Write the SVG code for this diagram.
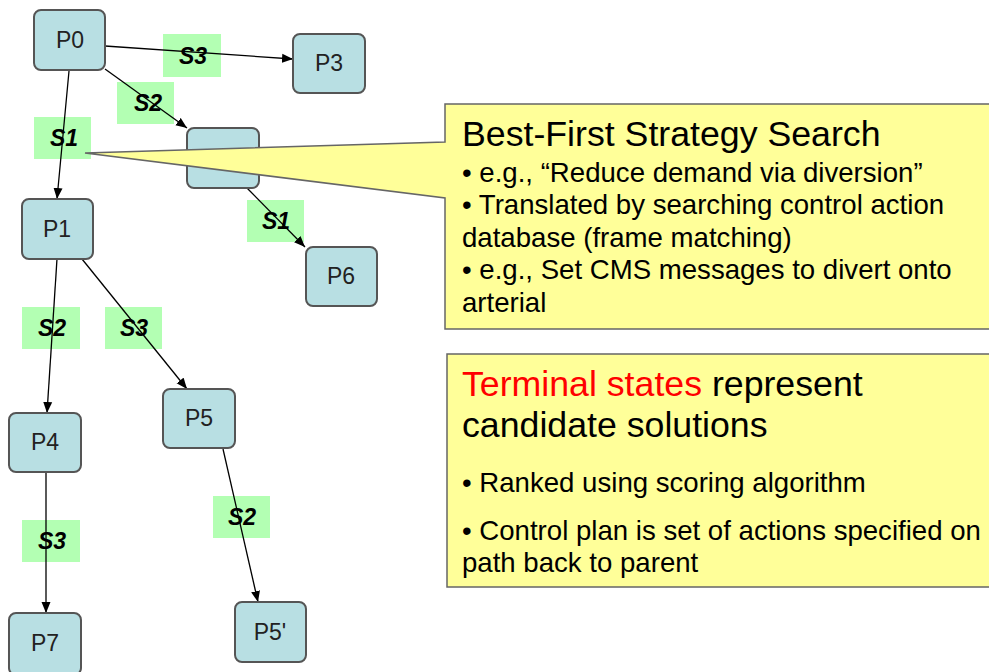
<svg xmlns="http://www.w3.org/2000/svg" width="989" height="672" viewBox="0 0 989 672">
<defs>
<marker id="arr" viewBox="0 0 11 10" refX="11" refY="5" markerWidth="11" markerHeight="10" markerUnits="userSpaceOnUse" orient="auto">
<path d="M0,0.5 L11,5 L0,9.5 Z" fill="#000"/>
</marker>
<style>
.node rect{fill:#b8dfe3;stroke:#555;stroke-width:2}
.node text{font-family:"Liberation Sans",Arial,sans-serif;font-size:23px;fill:#222;text-anchor:middle;dominant-baseline:central}
.lbl rect{fill:#b3ffb3;stroke:none}
.lbl text{font-family:"Liberation Sans",Arial,sans-serif;font-size:23px;font-weight:bold;font-style:italic;fill:#000;text-anchor:middle;dominant-baseline:central}
.edge{stroke:#000;stroke-width:1.3;fill:none;marker-end:url(#arr)}
.callout{fill:#ffff99;stroke:#666;stroke-width:1.5}
.t{font-family:"Liberation Sans",Arial,sans-serif;fill:#000}
.h{font-size:35.7px}
.b{font-size:27.6px}
</style>
</defs>
<rect width="989" height="672" fill="#fff"/>

<g id="labels" class="lbl">
<g id="l-p0-p3"><rect x="163" y="34" width="58" height="43"/><text x="193" y="56">S3</text></g>
<g id="l-p0-p2"><rect x="117" y="82" width="57" height="42"/><text x="148" y="103">S2</text></g>
<g id="l-p0-p1"><rect x="34" y="117" width="57" height="42"/><text x="64" y="138">S1</text></g>
<g id="l-p2-p6"><rect x="247" y="200" width="57" height="42"/><text x="276" y="221">S1</text></g>
<g id="l-p1-p4"><rect x="22" y="307" width="58" height="42"/><text x="52" y="328">S2</text></g>
<g id="l-p1-p5"><rect x="105" y="307" width="57" height="42"/><text x="134" y="328">S3</text></g>
<g id="l-p4-p7"><rect x="22" y="520" width="58" height="42"/><text x="52" y="541">S3</text></g>
<g id="l-p5-p5p"><rect x="213" y="496" width="57" height="42"/><text x="242" y="517">S2</text></g>
</g>

<g id="connectors">
<line class="edge" x1="105" y1="46" x2="293" y2="59"/>
<line class="edge" x1="105" y1="69" x2="187" y2="128"/>
<line class="edge" x1="69" y1="71" x2="57" y2="199"/>
<line class="edge" x1="247" y1="188" x2="305" y2="247"/>
<line class="edge" x1="57" y1="259" x2="47" y2="413"/>
<line class="edge" x1="82" y1="259" x2="187" y2="389"/>
<line class="edge" x1="46" y1="472" x2="46" y2="613"/>
<line class="edge" x1="223" y1="449" x2="258" y2="602"/>
</g>

<g id="P0" class="node"><rect x="34" y="10" width="71" height="60" rx="7"/><text x="70" y="40">P0</text></g>
<g id="P3" class="node"><rect x="293" y="34" width="72" height="59" rx="7"/><text x="329" y="63">P3</text></g>
<g id="P2" class="node"><rect x="187" y="128" width="72" height="60" rx="7"/></g>
<g id="P1" class="node"><rect x="22" y="199" width="71" height="60" rx="7"/><text x="57" y="229">P1</text></g>
<g id="P6" class="node"><rect x="306" y="247" width="71" height="59" rx="7"/><text x="341" y="276">P6</text></g>
<g id="P4" class="node"><rect x="9" y="413" width="72" height="59" rx="7"/><text x="45" y="442">P4</text></g>
<g id="P5" class="node"><rect x="163" y="389" width="72" height="59" rx="7"/><text x="199" y="418">P5</text></g>
<g id="P7" class="node"><rect x="9" y="613" width="72" height="62" rx="7"/><text x="45" y="643">P7</text></g>
<g id="P5p" class="node"><rect x="235" y="602" width="71" height="60" rx="7"/><text x="270" y="632">P5'</text></g>

<g id="callout-search">
<path class="callout" d="M445,104 L995,104 L995,329 L445,329 L445,198 L85,153 L445,142 Z"/>
<text class="t h" x="462" y="146">Best-First Strategy Search</text>
<text class="t b" x="462" y="182">• e.g., “Reduce demand via diversion”</text>
<text class="t b" x="462" y="214">• Translated by searching control action</text>
<text class="t b" x="462" y="247">database (frame matching)</text>
<text class="t b" x="462" y="279">• e.g., Set CMS messages to divert onto</text>
<text class="t b" x="462" y="312">arterial</text>
</g>

<g id="note-terminal">
<rect class="callout" x="447" y="354" width="548" height="233"/>
<text class="t h" x="462" y="396"><tspan fill="#ff0000">Terminal states</tspan> represent</text>
<text class="t h" x="462" y="437">candidate solutions</text>
<text class="t b" x="462" y="492">• Ranked using scoring algorithm</text>
<text class="t b" x="462" y="540">• Control plan is set of actions specified on</text>
<text class="t b" x="462" y="572">path back to parent</text>
</g>
</svg>
